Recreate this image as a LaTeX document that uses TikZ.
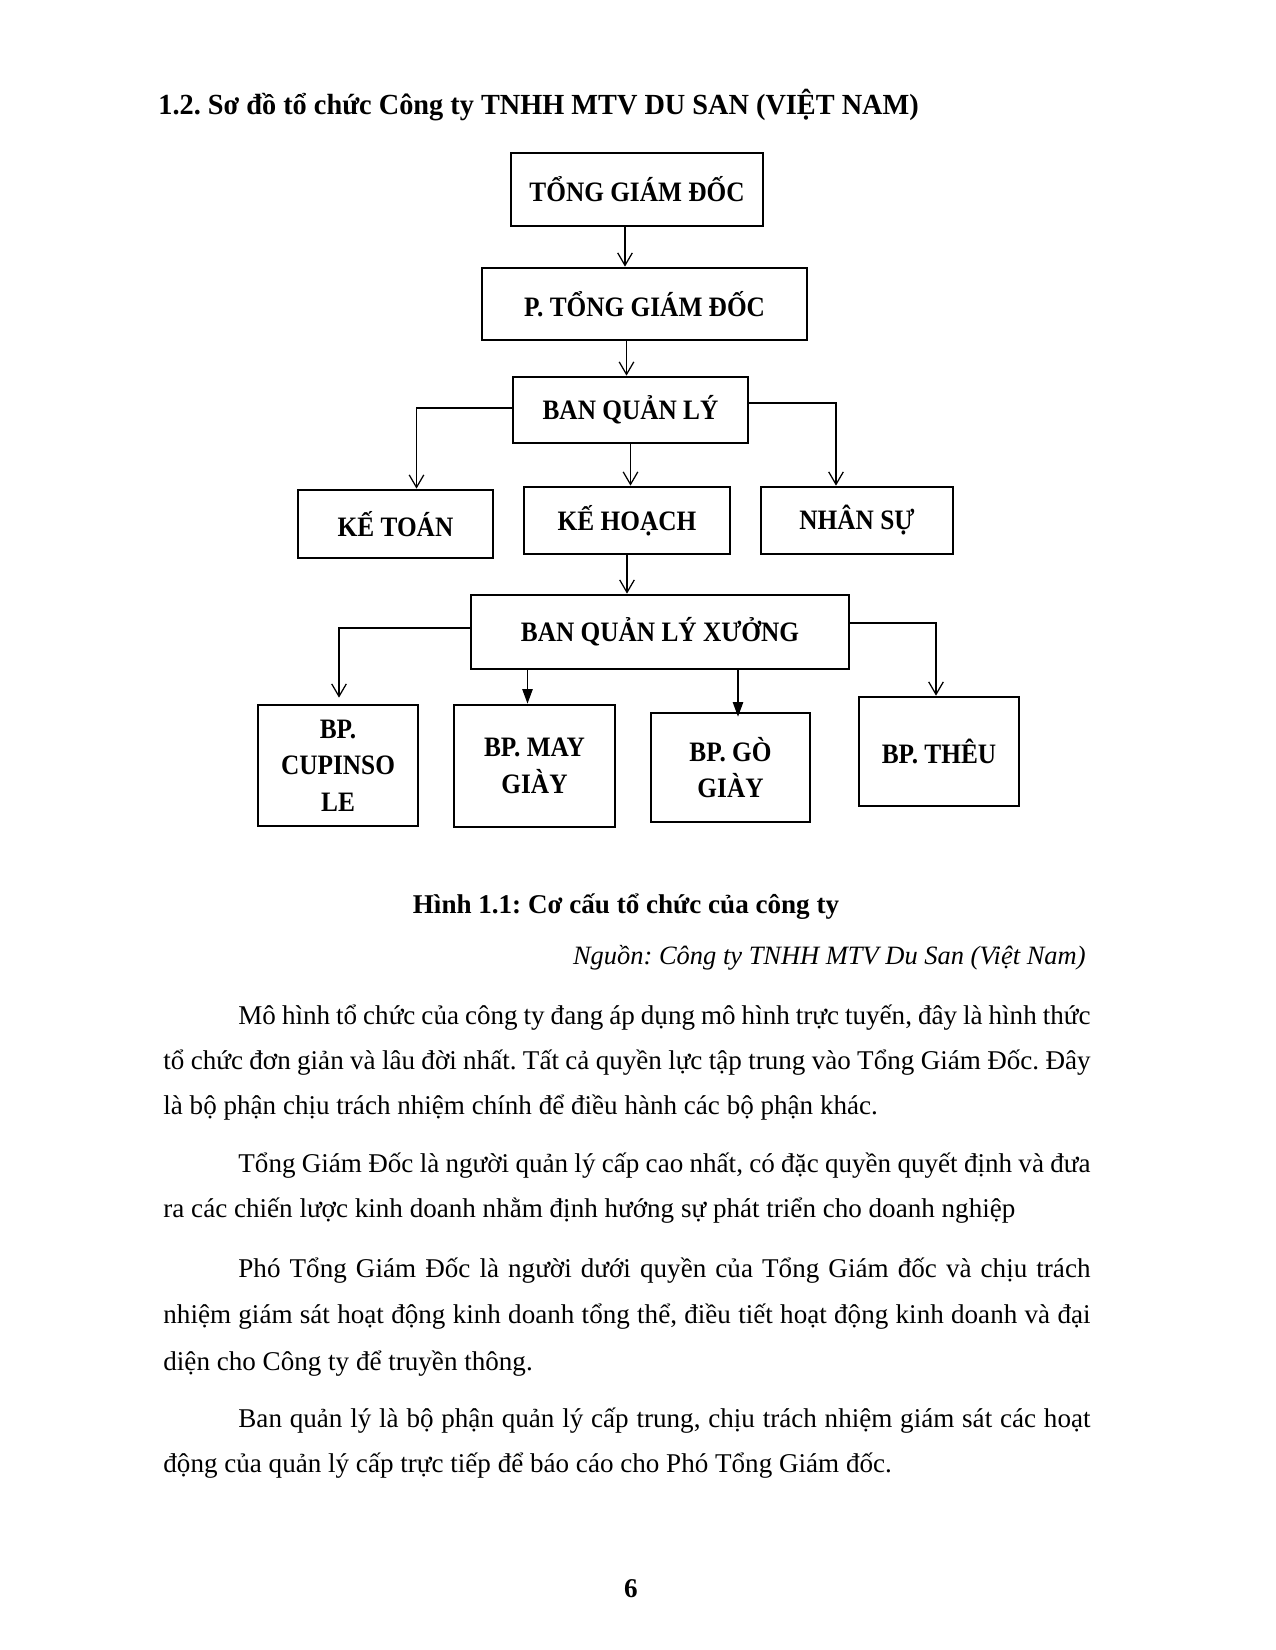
\documentclass[tikz,border=0pt]{standalone}
\usepackage{fontspec}
\setmainfont{Liberation Serif}
\newfontfamily\boxfont[FakeStretch=0.9]{Liberation Serif}
\newfontfamily\headfont[FakeStretch=0.97]{Liberation Serif}
\usetikzlibrary{arrows.meta,calc}
\def\pu{0.48pt}
\tikzset{
  box/.style={draw, line width=1.3pt, inner sep=2pt, align=center,
    font=\boxfont\fontsize{13.5}{17.5}\selectfont\bfseries},
  conn/.style={line width=0.6pt, -{Straight Barb[length=6pt,width=7pt]}},
  connf/.style={line width=0.6pt, -{Triangle[length=7pt,width=5pt]}},
  para/.style={anchor=base west, inner sep=0pt, text width=445pt, align=justify,
    font=\fontsize{13}{21.8}\selectfont\frenchspacing},
}
\begin{document}
\frenchspacing
\begin{tikzpicture}[x=\pu,y=-\pu]
\useasboundingbox (0,0) rectangle (1275,1650);
\fill[white] (0,0) rectangle (1275,1650);

\node[anchor=base west, inner sep=0pt, font=\headfont\fontsize{14}{17}\selectfont\bfseries] (title) at (158,115)
  {1.2. Sơ đồ tổ chức Công ty TNHH MTV DU SAN (VIỆT NAM)};

% boxes
\node[box, minimum width=252*\pu, minimum height=73*\pu] (tgd) at (637,189.5) {TỔNG GIÁM ĐỐC};
\node[box, minimum width=325*\pu, minimum height=72*\pu] (ptgd) at (644.5,304) {P. TỔNG GIÁM ĐỐC};
\node[box, minimum width=235*\pu, minimum height=66*\pu] (bql) at (630.5,410) {BAN QUẢN LÝ};
\node[box, minimum width=195*\pu, minimum height=68*\pu] (kt) at (395.5,524) {KẾ TOÁN};
\node[box, minimum width=206*\pu, minimum height=67*\pu] (kh) at (627,520.5) {KẾ HOẠCH};
\node[box, minimum width=192*\pu, minimum height=67*\pu] (ns) at (857,520.5) {NHÂN SỰ};
\node[box, minimum width=378*\pu, minimum height=74*\pu] (bqlx) at (660,632) {BAN QUẢN LÝ XƯỞNG};
\node[box, minimum width=160*\pu, minimum height=121*\pu] (cup) at (338,765.5) {BP.\\CUPINSO\\LE};
\node[box, minimum width=161*\pu, minimum height=122*\pu] (may) at (534.5,766) {BP. MAY\\GIÀY};
\node[box, minimum width=159*\pu, minimum height=109*\pu] (go) at (730.5,767.5) {BP. GÒ\\GIÀY};
\node[box, minimum width=160*\pu, minimum height=109*\pu] (theu) at (939,751.5) {BP. THÊU};

% connectors
\draw[conn] ([xshift=-12*\pu]tgd.south) -- ([xshift=-12*\pu]tgd.south |- ptgd.north);
\draw[conn] ([xshift=-18*\pu]ptgd.south) -- ([xshift=-18*\pu]ptgd.south |- bql.north);
\draw[conn] ([yshift=2*\pu]bql.west) -| ([xshift=21*\pu]kt.north);
\draw[conn] (bql.south) -- (bql.south |- kh.north);
\draw[conn] ([yshift=7*\pu]bql.east) -| ([xshift=-21*\pu]ns.north);
\draw[conn] (kh.south) -- (kh.south |- bqlx.north);
\draw[conn] ([yshift=4*\pu]bqlx.west) -| ([shift={(1*\pu,6*\pu)}]cup.north);
\draw[connf] ([xshift=-7*\pu]may.north |- bqlx.south) -- ([xshift=-7*\pu]may.north);
\draw[connf, shorten >=-5*\pu] ([xshift=7.5*\pu]go.north |- bqlx.south) -- ([xshift=7.5*\pu]go.north);
\draw[conn] ([yshift=9*\pu]bqlx.east) -| ([xshift=-3*\pu]theu.north);

% caption and source
\node[anchor=base, inner sep=0pt, font=\fontsize{13}{16}\selectfont\bfseries] (cap) at (626,913)
  {Hình 1.1: Cơ cấu tổ chức của công ty};
\node[anchor=base east, inner sep=0pt, font=\fontsize{12.7}{16}\selectfont\itshape] (src) at (1086,964)
  {Nguồn: Công ty TNHH MTV Du San (Việt Nam)};

% paragraphs
\node[para] (p1) at (163,1024) {\hspace*{36pt}Mô hình tổ chức của công ty đang áp dụng mô hình trực tuyến, đây là hình thức\linebreak
tổ chức đơn giản và lâu đời nhất. Tất cả quyền lực tập trung vào Tổng Giám Đốc. Đây\linebreak
là bộ phận chịu trách nhiệm chính để điều hành các bộ phận khác.};
\node[para] (p2) at (163,1172) {\hspace*{36pt}Tổng Giám Đốc là người quản lý cấp cao nhất, có đặc quyền quyết định và đưa\linebreak
ra các chiến lược kinh doanh nhằm định hướng sự phát triển cho doanh nghiệp};
\node[para, font=\fontsize{13}{22.4}\selectfont\frenchspacing] (p3) at (163,1277) {\hspace*{36pt}Phó Tổng Giám Đốc là người dưới quyền của Tổng Giám đốc và chịu trách\linebreak
nhiệm giám sát hoạt động kinh doanh tổng thể, điều tiết hoạt động kinh doanh và đại\linebreak
diện cho Công ty để truyền thông.};
\node[para] (p4) at (163,1427) {\hspace*{36pt}Ban quản lý là bộ phận quản lý cấp trung, chịu trách nhiệm giám sát các hoạt\linebreak
động của quản lý cấp trực tiếp để báo cáo cho Phó Tổng Giám đốc.};

\node[anchor=base, inner sep=0pt, font=\fontsize{13}{16}\selectfont\bfseries] (pg) at (631,1597) {6};
\end{tikzpicture}
\end{document}
